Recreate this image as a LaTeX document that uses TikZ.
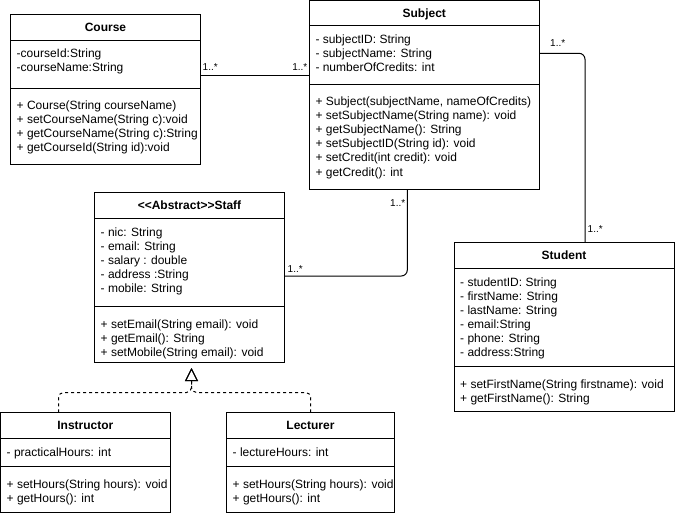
\documentclass[tikz,border=0pt]{standalone}
\usepackage{fontspec}
\setmainfont{Liberation Sans}
\usetikzlibrary{arrows.meta}
\tikzstyle{umlPlan} = [x = 1pt, y = -1pt]
\tikzstyle{classStyle} = [draw = black, line width = 1pt, fill = white, inner sep = 0, outer sep = 0]
\tikzstyle{dividerLine} = [color = black, line width = 1pt]
\tikzstyle{titleText} = [font = \fontsize{12}{14}\selectfont\bfseries, inner sep = 0, anchor = base]
\tikzstyle{memberText} = [font = \fontsize{12}{14}\selectfont, inner sep = 0, anchor = base west]
\tikzstyle{multText} = [font = \fontsize{10}{12}\selectfont, inner sep = 0]
\tikzstyle{assocLine} = [color = black, line width = 1pt, rounded corners = 6pt]
\tikzstyle{realizeLine} = [color = black, line width = 1pt, dashed, rounded corners = 5pt, -{Triangle[open, length = 13pt, width = 13pt]}]
\newcommand{\umlClass}[8]{
  \node [classStyle, minimum width = #5pt, minimum height = #6pt, anchor = north west] (#1) at (#3, #4) {};
  \node [titleText] (#1Title) at (#3 + #5 / 2, #4 + #7 / 2 + 4.3) {#2};
  \draw [dividerLine] (#3, #4 + #7) -- + (#5, 0);
  \draw [dividerLine] (#3, #4 + #8) -- + (#5, 0);
}
\newcommand{\memberLines}[4]{
  \foreach \entry [count = \i] in {#4} {
    \node [memberText] (#1\i) at (#2, #3 + 14 * \i - 14) {\entry};
  }
}
\begin{document}
\begin{tikzpicture}[umlPlan]
          \useasboundingbox [fill = white] (0, 0) rectangle (675, 516);

          \umlClass{course}{Course}{10.5}{14.5}{190}{150}{26.2}{73.8}
          \memberLines{courseAttr}{16.5}{57.5}{-courseId:String, -courseName:String}
          \memberLines{courseOp}{16.5}{109.5}{+ Course(String courseName), + setCourseName(String c):void, + getCourseName(String c):String, + getCourseId(String id):void}

          \umlClass{subject}{Subject}{309.3}{0.5}{230}{189.5}{25.5}{83.8}
          \memberLines{subjectAttr}{315.3}{44}{- subjectID: String, - subjectName: String, - numberOfCredits: int}
          \memberLines{subjectOp}{315.3}{106}{{+ Subject(subjectName, nameOfCredits)}, + setSubjectName(String name): void, + getSubjectName(): String, + setSubjectID(String id): void, + setCredit(int credit): void, + getCredit(): int}

          \umlClass{staff}{<\kern0pt<Abstract>\kern0pt>Staff}{94.5}{192.5}{190}{170}{26}{114}
          \memberLines{staffAttr}{100.5}{236}{- nic: String, - email: String, - salary : double, - address :String, - mobile: String}
          \memberLines{staffOp}{100.5}{328.3}{+ setEmail(String email): void, + getEmail(): String, + setMobile(String email): void}

          \umlClass{student}{Student}{454}{242.3}{220}{169.5}{26.5}{123.7}
          \memberLines{studentAttr}{460}{286}{- studentID: String, - firstName: String, - lastName: String, - email:String, - phone: String, - address:String}
          \memberLines{studentOp}{460}{388.6}{+ setFirstName(String firstname): void, + getFirstName(): String}

          \umlClass{instructor}{Instructor}{0.5}{412.3}{169.8}{100}{26}{53.7}
          \memberLines{instructorAttr}{6.5}{456}{- practicalHours: int}
          \memberLines{instructorOp}{6.5}{488.3}{+ setHours(String hours): void, + getHours(): int}

          \umlClass{lecturer}{Lecturer}{226.7}{412.3}{167.6}{100}{26}{53.7}
          \memberLines{lecturerAttr}{232.5}{456}{- lectureHours: int}
          \memberLines{lecturerOp}{232.5}{488.3}{+ setHours(String hours): void, + getHours(): int}

          \coordinate (courseOut) at ([yshift = -61.5pt]course.north east);
          \draw [assocLine] (courseOut) -- (courseOut -| subject.west);
          \draw [assocLine] ([yshift = -52.8pt]subject.north east) -| ([xshift = 131pt]student.north west);
          \draw [assocLine] ([xshift = 98pt]subject.south west) |- ([yshift = -83.5pt]staff.north east);

          \coordinate (staffTip) at ([xshift = 2pt, yshift = -5.5pt]staff.south);
          \draw [realizeLine] ([xshift = 58pt]instructor.north west) |- ([yshift = -24.5pt]staffTip) -- (staffTip);
          \draw [realizeLine] ([xshift = 84pt]lecturer.north west) |- ([yshift = -24.5pt]staffTip) -- (staffTip);

          \node [multText, anchor = base west] (courseMult) at (202.5, 70.5) {1..*};
          \node [multText, anchor = base east] (subjectMultLeft) at (307.5, 70.5) {1..*};
          \node [multText, anchor = base west] (subjectMultRight) at (550, 47) {1..*};
          \node [multText, anchor = base west] (studentMult) at (587.5, 232) {1..*};
          \node [multText, anchor = base west] (subjectMultBottom) at (390, 206) {1..*};
          \node [multText, anchor = base west] (staffMult) at (287.5, 272) {1..*};
        \end{tikzpicture}
\end{document}
